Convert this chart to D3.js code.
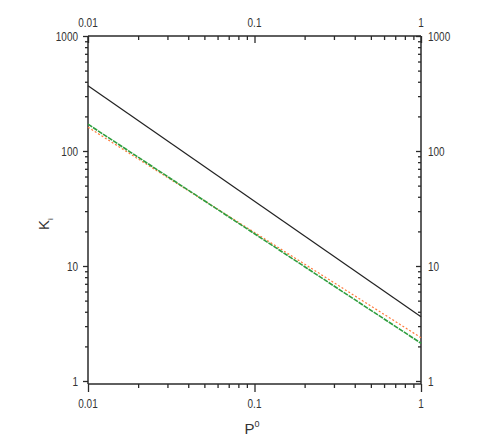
<!DOCTYPE html>
<html>
<head>
<meta charset="utf-8">
<script src="https://cdn.jsdelivr.net/npm/d3@7"></script>
<style>
  body { margin: 0; background: #fff; }
  text { font-family: "Liberation Sans", Arial, sans-serif; fill: #333; }
</style>
</head>
<body>
<div id="chart"></div>
<script>
var width = 491,
	height = 436;

// data
var pValues = [0.01, 1];
var blackK = [370, 3.62];
var greenK = [171, 2.13];
var orangeK = [161, 2.38];

var xMajor = [0.01, 0.1, 1];
var yMajor = [1, 10, 100, 1000];
var xLabels = ['0.01', '0.1', '1'];
var yLabels = ['1', '10', '100', '1000'];

var plotLeft = 88, plotRight = 421, plotTop = 36, plotBottom = 381, axisBottomY = 384;
var squeeze = 0.74;

var x = d3.scaleLog().domain([0.01, 1]).range([plotLeft, plotRight]);
var y = d3.scaleLog().domain([1, 1000]).range([plotBottom, plotTop]);

function minors(lo, hi) {
	var out = [];
	for (var d = lo; d < hi * 0.999; d *= 10)
		for (var k = 2; k < 10; k++) out.push(d * k);
	return out;
}
var xMinor = minors(0.01, 1);
var yMinor = minors(1, 1000);

var svg = d3.select('#chart')
	.append('svg')
	.attr('width', width)
	.attr('height', height);

var axisColor = '#2a2a2a';

function styleAxis(g) {
	g.select('.domain').remove();
	g.selectAll('line').attr('stroke', axisColor).attr('stroke-width', 1.3);
	g.selectAll('text').remove();
}

// bottom axis (ticks down)
svg.append('g').attr('transform', 'translate(0,' + axisBottomY + ')')
	.call(d3.axisBottom(x).tickValues(xMajor).tickSize(8)).call(styleAxis);
svg.append('g').attr('transform', 'translate(0,' + axisBottomY + ')')
	.call(d3.axisBottom(x).tickValues(xMinor).tickSize(4)).call(styleAxis);
// top axis (ticks also down, inward)
svg.append('g').attr('transform', 'translate(0,' + plotTop + ')')
	.call(d3.axisBottom(x).tickValues(xMajor).tickSize(7)).call(styleAxis);
svg.append('g').attr('transform', 'translate(0,' + plotTop + ')')
	.call(d3.axisBottom(x).tickValues(xMinor).tickSize(4)).call(styleAxis);
// left axis (ticks left, outward)
svg.append('g').attr('transform', 'translate(' + plotLeft + ',0)')
	.call(d3.axisLeft(y).tickValues(yMajor).tickSize(5)).call(styleAxis);
svg.append('g').attr('transform', 'translate(' + plotLeft + ',0)')
	.call(d3.axisLeft(y).tickValues(yMinor).tickSize(3)).call(styleAxis);
// right axis (ticks left, inward)
svg.append('g').attr('transform', 'translate(' + plotRight + ',0)')
	.call(d3.axisLeft(y).tickValues(yMajor).tickSize(5)).call(styleAxis);
svg.append('g').attr('transform', 'translate(' + plotRight + ',0)')
	.call(d3.axisLeft(y).tickValues(yMinor).tickSize(3)).call(styleAxis);

// frame
function frameLine(x1, y1, x2, y2) {
	svg.append('line').attr('x1', x1).attr('y1', y1).attr('x2', x2).attr('y2', y2)
		.attr('stroke', axisColor).attr('stroke-width', 1.5);
}
frameLine(plotLeft, plotTop, plotRight, plotTop);
frameLine(plotLeft, axisBottomY, plotRight, axisBottomY);
frameLine(plotLeft, plotTop, plotLeft, axisBottomY);
frameLine(plotRight, plotTop, plotRight, axisBottomY);

// tick labels (narrow look, squeezed horizontally)
function label(px, py, anchor, txt) {
	svg.append('text')
		.attr('transform', 'translate(' + px + ',' + py + ') scale(' + squeeze + ',1)')
		.attr('text-anchor', anchor).attr('font-size', 13.5)
		.text(txt);
}
xMajor.forEach(function(d, i) {
	label(x(d), 408, 'middle', xLabels[i]);
	label(x(d), 27, 'middle', xLabels[i]);
});
yMajor.forEach(function(d, i) {
	label(plotLeft - 10, y(d) + 5, 'end', yLabels[i]);
	label(plotRight + 7, y(d) + 5, 'start', yLabels[i]);
});

// axis titles
var xt = svg.append('text').attr('x', 252).attr('y', 434)
	.attr('text-anchor', 'middle').attr('font-size', 15);
xt.append('tspan').text('P');
xt.append('tspan').attr('dy', -7).attr('font-size', 9).text('0');

var yt = svg.append('text').attr('transform', 'translate(49,224) rotate(-90)')
	.attr('text-anchor', 'middle').attr('font-size', 15);
yt.append('tspan').text('K');
yt.append('tspan').attr('dy', 4).attr('font-size', 8).text('i');

// lines
var line = d3.line()
	.x(function(d) { return x(d[0]); })
	.y(function(d) { return y(d[1]); });

function pts(vals) { return pValues.map(function(p, i) { return [p, vals[i]]; }); }

svg.append('path').attr('d', line(pts(orangeK)))
	.attr('fill', 'none').attr('stroke', '#ff7a3a').attr('stroke-width', 1.2)
	.attr('stroke-dasharray', '2,2');
svg.append('path').attr('d', line(pts(greenK)))
	.attr('fill', 'none').attr('stroke', '#2e9e3e').attr('stroke-width', 1.6)
	.attr('stroke-dasharray', '5,1');
svg.append('path').attr('d', line(pts(blackK)))
	.attr('fill', 'none').attr('stroke', '#222').attr('stroke-width', 1.2);
</script>
</body>
</html>
